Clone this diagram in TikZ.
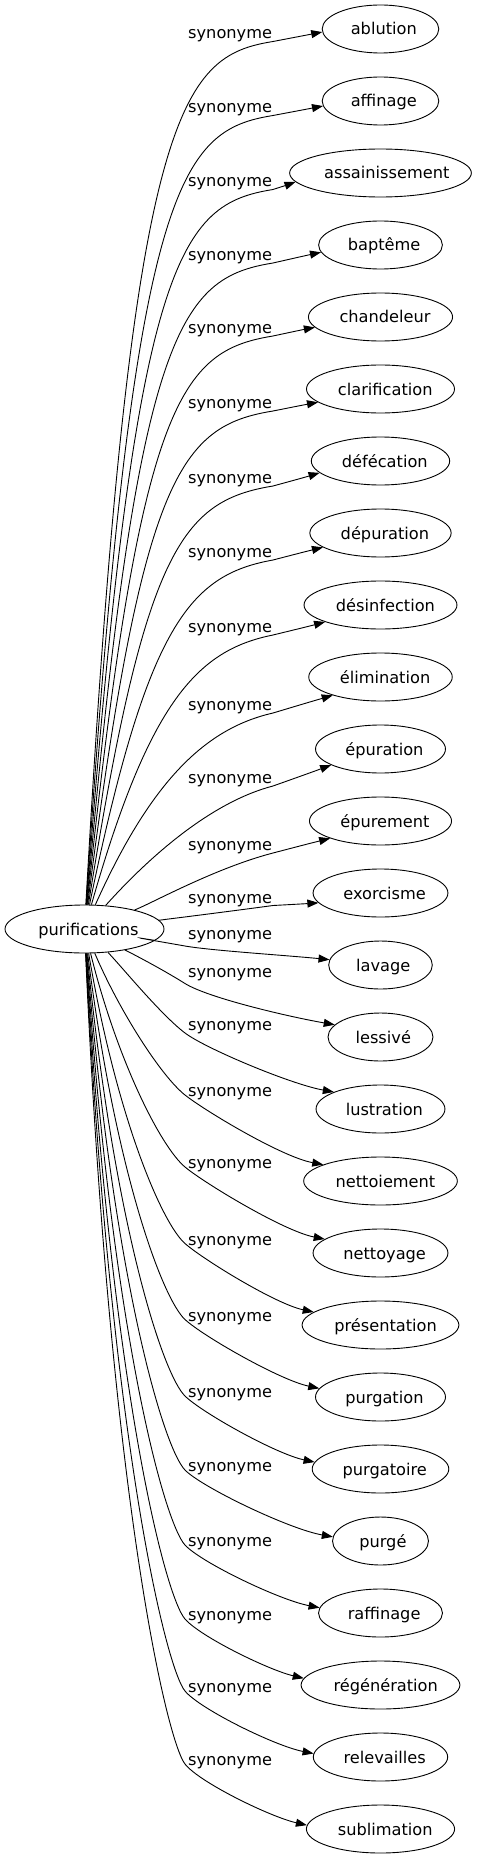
\documentclass[tikz,border=0pt]{standalone}
\usepackage{fontspec}
\setmainfont{DejaVu Sans}
\usetikzlibrary{arrows.meta,shapes.geometric}
\newcommand\nfont{\fontsize{16.2}{19}\selectfont}
\tikzset{
  word/.style={draw, ellipse, minimum height=48pt, inner sep=0pt, text height=12pt, text depth=0pt, line width=0.9pt},
  lbl/.style={anchor=base west, inner sep=0pt},
  syn/.style={draw, line width=0.9pt, -{Triangle[length=11pt,width=8pt]}},
}
\def\datalist{%
0/n0/ablution/33.5/3,
1/n1/affinage/107.5/5,
2/n2/assainissement/181.5/9,
3/n3/baptême/255/7,
4/n4/chandeleur/328/10,
5/n5/clarification/403/13,
6/n6/défécation/478/12,
7/n7/dépuration/552/14,
8/n8/désinfection/627/17,
9/n9/élimination/705/18,
10/n10/épuration/778/16,
11/n11/épurement/845/17,
12/n12/exorcisme/897.5/10,
13/n13/lavage/934/-5,
14/n14/lessivé/971.5/-12,
15/n15/lustration/1025/-17,
16/n16/nettoiement/1091/-16,
17/n17/nettoyage/1163/-14,
18/n18/présentation/1239.5/-13,
19/n19/purgation/1315.5/-9,
20/n20/purgatoire/1392/-7,
21/n21/purgé/1466/-4,
22/n22/raffinage/1541/-5,
23/n23/régénération/1615/-7,
24/n24/relevailles/1687/-3,
25/n25/sublimation/1760/-4}
\begin{document}%
\foreach \i/\nm/\txt/\L/\dl in \datalist {\setbox0\hbox{\nfont\txt}\expandafter\xdef\csname tw\i\endcsname{\the\wd0}}%
\begin{tikzpicture}[x=1pt, y=-1pt, font=\nfont]
\useasboundingbox (0,0) rectangle (477,1859);
\node[word, minimum width=159pt] (pur) at (84.5,929) {\makebox[0pt]{\hspace*{8pt}purifications}};
\foreach \i/\nm/\txt/\L/\dl in \datalist {
  \pgfmathsetmacro\qtw{\csname tw\i\endcsname}
  \pgfmathsetmacro\qny{29+72*\i}
  \pgfmathsetmacro\qnw{1.1*\qtw+44}
  \pgfmathsetmacro\qsh{0.1*\qtw}
  \node[word, minimum width=\qnw pt] (\nm) at (380.5,\qny) {\makebox[0pt]{\hspace*{\qsh pt}\txt}};
  \node[lbl] (s\i) at (188,\L+5.5) {synonyme};
  \pgfmathsetmacro\qrx{\qnw/2}
  \pgfmathsetmacro\qax{\qrx*sqrt(1-(\dl/24)^2)}
  \pgfmathtruncatemacro\qth{round(180+atan(\dl/\qax))}
  \pgfmathsetmacro\qtx{380.5-\qax}
  \pgfmathsetmacro\qty{\qny+\dl}
  \ifnum\i<13
    \pgfmathsetmacro\qKy{\L+8}
    \pgfmathsetmacro\qh{929-\qKy}
    \pgfmathsetmacro\qA{\qh<143 ? 66 : 70-24*min((\qh-143)/745,1)}
    \pgfmathsetmacro\qB{min(0.67*\qh,65)}
    \pgfmathsetmacro\qC{\qh<150 ? 215 : 180+35*max(0,(450-\qh)/300)}
    \pgfmathsetmacro\qD{min(\qh/3,15)}
    \pgfmathsetmacro\qcx{273+(\qtx-273)/3}
    \pgfmathsetmacro\qcy{\qKy+(\qty-\qKy)/3}
    \pgfmathsetmacro\qdx{273+2*(\qtx-273)/3}
    \pgfmathsetmacro\qdy{\qKy+2*(\qty-\qKy)/3}
    \draw[syn] (pur) .. controls (84.5+\qA,\qKy+\qB) and (\qC,\qKy+\qD) .. (273,\qKy)
      .. controls (\qcx,\qcy) and (\qdx,\qdy) .. (\nm.\qth);
  \else
    \pgfmathsetmacro\qk{\i<15 ? 12 : (\i<16 ? 8 : 4)}
    \pgfmathsetmacro\qKy{\L+\qk}
    \pgfmathsetmacro\qh{\qKy-929}
    \pgfmathsetmacro\qA{35-9.5*max(\qh-104,0)/730}
    \pgfmathsetmacro\qyr{\qh<104 ? \qh/3 : 35+0.734*(\qh-104)}
    \pgfmathsetmacro\qa{33.5-8.5*min(\qh/104,1)-7*max(\qh-104,0)/730}
    \pgfmathsetmacro\qb{min(\qh/3,19)+4*max(\qh-104,0)/730}
    \pgfmathsetmacro\qcx{185+0.8*\qa}
    \pgfmathsetmacro\qcy{\qKy+0.8*\qb}
    \pgfmathsetmacro\qdx{\qtx-0.3*(\qtx-185)}
    \pgfmathsetmacro\qdy{\qty-min(8,(\qty-\qKy)/3)}
    \draw[syn] (pur) .. controls (84.5+\qA,929+\qyr) and (185-\qa,\qKy-\qb) .. (185,\qKy)
      .. controls (\qcx,\qcy) and (\qdx,\qdy) .. (\nm.\qth);
  \fi
}
\end{tikzpicture}
\end{document}
